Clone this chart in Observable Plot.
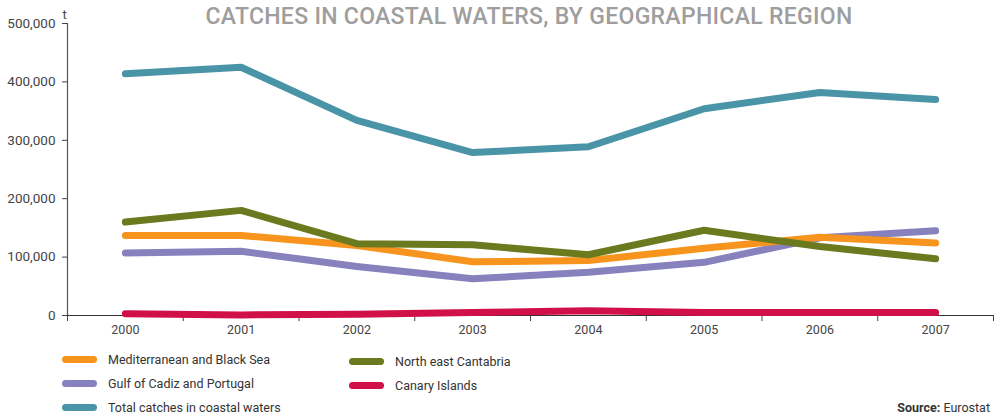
<!DOCTYPE html>
<html>
<head>
<meta charset="utf-8">
<script src="https://cdn.jsdelivr.net/npm/d3@7"></script>
<script src="https://cdn.jsdelivr.net/npm/@observablehq/plot@0.6"></script>
<style>
  html, body { margin: 0; padding: 0; background: #fff; }
  #wrap { position: relative; width: 1000px; height: 419px; overflow: hidden; font-family: Roboto, "Liberation Sans", sans-serif; }
  #title { position: absolute; top: 3px; left: 0; width: 1058px; text-align: center; font-size: 23px; font-weight: 500; color: #9e9e9e; letter-spacing: 0.3px; }
  #chart { position: absolute; top: 0; left: 0; }
  .leg { position: absolute; font-size: 12.5px; color: #333; display: flex; align-items: center; }
  .sw { display: inline-block; width: 35px; height: 7px; border-radius: 4px; margin-right: 11px; }
  #source { position: absolute; right: 10px; top: 400px; font-size: 12.5px; color: #333; }
</style>
</head>
<body>
<div id="wrap">
  <div id="chart"></div>
  <div id="title">CATCHES IN COASTAL WATERS, BY GEOGRAPHICAL REGION</div>
  <div id="legend"></div>
  <div id="source"><b>Source:</b> Eurostat</div>
</div>
<script>
const years = [2000, 2001, 2002, 2003, 2004, 2005, 2006, 2007];
const mediterranean = [137000, 137000, 120000, 92000, 94000, 115000, 134000, 124000];
const gulfCadiz = [107000, 110000, 84000, 63000, 74000, 91000, 133000, 145000];
const total = [414000, 425000, 334000, 279000, 289000, 354000, 382000, 370000];
const cantabria = [160000, 180000, 123000, 121000, 104000, 146000, 118000, 97000];
const canary = [3000, 1000, 2000, 5000, 8000, 5000, 5000, 5000];
const yTicks = [0, 100000, 200000, 300000, 400000, 500000];

const seriesNames = ["Mediterranean and Black Sea", "North east Cantabria", "Gulf of Cadiz and Portugal", "Canary Islands", "Total catches in coastal waters"];
const seriesColors = ["#f7941d", "#6b7a1f", "#8781bd", "#d1104a", "#4a94a8"];
const seriesValues = [mediterranean, cantabria, gulfCadiz, canary, total];

const rows = [];
seriesNames.forEach((name, i) => {
  years.forEach((yr, j) => rows.push({series: name, year: yr, value: seriesValues[i][j]}));
});
const drawOrder = ["Canary Islands", "Gulf of Cadiz and Portugal", "Mediterranean and Black Sea", "North east Cantabria", "Total catches in coastal waters"];
const boundaries = d3.range(years.length + 1).map(i => years[0] - 0.5 + i);
const fmt = d3.format(",");

const plot = Plot.plot({
  width: 1000,
  height: 345,
  marginLeft: 67,
  marginRight: 7,
  marginTop: 23,
  marginBottom: 30,
  style: {fontFamily: "Roboto, 'Liberation Sans', sans-serif", fontSize: "13.5px", color: "#444", background: "transparent"},
  x: {domain: [years[0] - 0.5, years[years.length - 1] + 0.5]},
  y: {domain: [0, 500000]},
  color: {domain: seriesNames, range: seriesColors},
  marks: [
    Plot.axisY({ticks: yTicks, tickFormat: fmt, tickSize: 5, tickPadding: 7, label: null, stroke: "#444", fill: "#444"}),
    Plot.axisX({ticks: boundaries, tickFormat: () => "", tickSize: 6, label: null, stroke: "#444"}),
    Plot.axisX({ticks: years, tickFormat: d => String(d), tickSize: 0, tickPadding: 10, label: null, fill: "#444", fontSize: 12.5}),
    Plot.ruleX([years[0] - 0.5], {stroke: "#555", strokeWidth: 1.2}),
    Plot.ruleY([0], {stroke: "#333", strokeWidth: 1.2}),
    ...drawOrder.map(name => Plot.lineY(rows.filter(d => d.series === name), {
      x: "year", y: "value", stroke: seriesColors[seriesNames.indexOf(name)],
      strokeWidth: 7, strokeLinecap: "round", strokeLinejoin: "round"
    })),
    Plot.text(["t"], {frameAnchor: "top-left", dx: -5, dy: -14, fontSize: 13, fill: "#444"})
  ]
});
document.getElementById("chart").appendChild(plot);

// legend (HTML below the chart)
const legendPos = [
  {name: "Mediterranean and Black Sea", left: 62, top: 352},
  {name: "Gulf of Cadiz and Portugal", left: 62, top: 376},
  {name: "Total catches in coastal waters", left: 62, top: 400},
  {name: "North east Cantabria", left: 349, top: 354},
  {name: "Canary Islands", left: 349, top: 378}
];
const leg = document.getElementById("legend");
legendPos.forEach(p => {
  const d = document.createElement("div");
  d.className = "leg";
  d.style.left = p.left + "px";
  d.style.top = p.top + "px";
  const sw = document.createElement("span");
  sw.className = "sw";
  sw.style.background = seriesColors[seriesNames.indexOf(p.name)];
  d.appendChild(sw);
  d.appendChild(document.createTextNode(p.name));
  leg.appendChild(d);
});
</script>
</body>
</html>
